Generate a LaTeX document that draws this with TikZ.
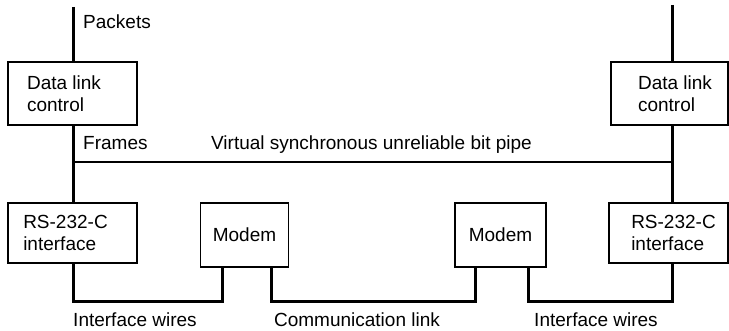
\documentclass[tikz,border=0pt]{standalone}
\usepackage{fontspec}
\setmainfont{Liberation Sans}
\begin{document}
\begin{tikzpicture}[x=1pt,y=-1pt,
  box/.style={draw,line width=1.4pt,inner sep=0pt,align=left,font=\fontsize{19}{22}\selectfont},
  thick wire/.style={line width=3pt,line join=miter},
  thin wire/.style={line width=1.6pt},
  lbl/.style={inner sep=0pt,font=\fontsize{19}{22}\selectfont}]
\useasboundingbox (0,0) rectangle (729,331);
% boxes
\node[box,minimum width=129pt,minimum height=63pt] (dlcL) at (72.5,93.5) {Data link\hspace*{17pt}\\control};
\node[box,minimum width=117pt,minimum height=63pt] (dlcR) at (669.5,93.5) {\hspace*{11pt}Data link\\\hspace*{11pt}control};
\node[box,minimum width=129pt,minimum height=60pt] (rsL) at (72.5,233) {RS-232-C\hspace*{14pt}\\interface};
\node[box,minimum width=119pt,minimum height=60pt] (rsR) at (668.5,233) {\hspace*{10pt}RS-232-C\\\hspace*{10pt}interface};
\node[box,minimum width=88pt,minimum height=64pt] (modL) at (244.5,235) {Modem};
\node[box,minimum width=91pt,minimum height=64pt] (modR) at (500.5,235) {Modem};
% free ends and corners
\coordinate (pktL) at (73,7);
\coordinate (pktR) at (672,5);
\coordinate (pipeL) at (73,162);
\coordinate (pipeR) at (672,162);
\coordinate (bot) at (0,302);
% vertical stacks
\draw[thick wire] (pktL) -- (pktL |- dlcL.north);
\draw[thick wire] (pktL |- dlcL.south) -- (pktL |- rsL.north);
\draw[thick wire] (pktR) -- (pktR |- dlcR.north);
\draw[thick wire] (pktR |- dlcR.south) -- (pktR |- rsR.north);
% pipe
\draw[thin wire] (pipeL) -- (pipeR);
% wires
\draw[thick wire] (pktL |- rsL.south) -- (pktL |- bot) -| ([xshift=-22pt]modL.south);
\draw[thick wire] ([xshift=27pt]modL.south) -- ([xshift=27pt]modL.south |- bot) -| ([xshift=-25pt]modR.south);
\draw[thick wire] ([xshift=28pt]modR.south) -- ([xshift=28pt]modR.south |- bot) -| (pktR |- rsR.south);
% labels
\node[lbl,anchor=west] (packets) at (83,22) {Packets};
\node[lbl,anchor=west] (frames) at (83,143) {Frames};
\node[lbl] (pipe) at (371.5,145) {Virtual synchronous unreliable bit pipe};
\node[lbl] (iwL) at (135,320) {Interface wires};
\node[lbl] (comm) at (357,320) {Communication link};
\node[lbl] (iwR) at (596,320) {Interface wires};
\end{tikzpicture}
\end{document}
